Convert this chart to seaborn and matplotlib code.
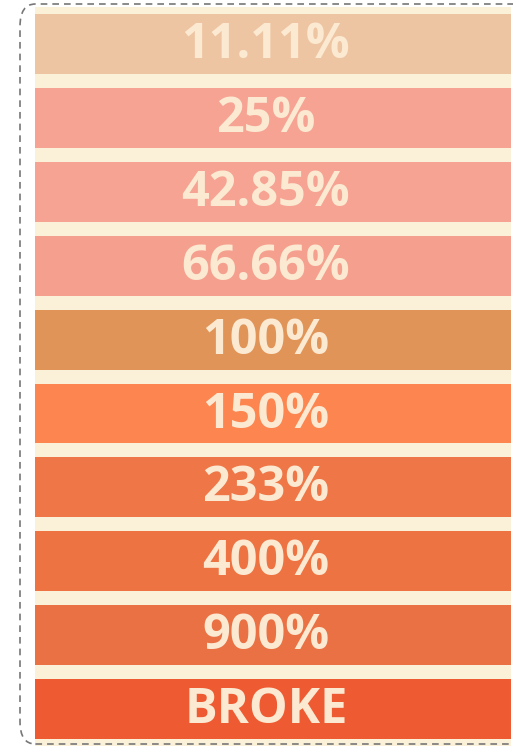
import matplotlib
matplotlib.use("Agg")
import matplotlib.pyplot as plt
from matplotlib.patches import FancyBboxPatch
import seaborn as sns
import pandas as pd

# Data
losses = ["10%", "20%", "30%", "40%", "50%", "60%", "70%", "80%", "90%", "100%"]
recovery_labels = ["11.11%", "25%", "42.85%", "66.66%", "100%", "150%", "233%", "400%", "900%", "BROKE"]
bar_length = [1, 1, 1, 1, 1, 1, 1, 1, 1, 1]
bar_colors = ["#EEC5A3", "#F6A393", "#F6A393", "#F5A08E", "#E09458",
              "#FD8550", "#EE7647", "#EE7342", "#EA7144", "#EE5A32"]

df = pd.DataFrame({"loss": losses, "label": recovery_labels, "length": bar_length})

sns.set_theme(style="white")
plt.rcParams['font.family'] = ['Open Sans', 'DejaVu Sans']

fig = plt.figure(figsize=(5.13, 7.48), dpi=100)
fig.patch.set_facecolor("white")
ax = fig.add_axes([35 / 513, 0.003, (511 - 35) / 513, 0.987])
ax.set_facecolor("#FBF0D8")

sns.barplot(data=df, x="length", y="loss", hue="loss", palette=bar_colors,
            legend=False, orient="h", width=0.81, ax=ax, saturation=1,
            linewidth=0, edgecolor="none")

ax.set_xlim(0, 1)
for i, lab in enumerate(recovery_labels):
    ax.text(0.485, i + 0.02, lab, ha="center", va="center", fontsize=35,
            fontweight="bold", color="#FCE9D2")

ax.set_xticks([])
ax.set_yticks([])
ax.set_xlabel("")
ax.set_ylabel("")
for s in ax.spines.values():
    s.set_visible(False)

# dashed rounded frame
frame = FancyBboxPatch((20 / 513, 4 / 748), (530 - 20) / 513, (744 - 4) / 748,
                       boxstyle="round,pad=0,rounding_size=0.03",
                       transform=fig.transFigure, fill=False,
                       edgecolor="#777777", linestyle=(0, (4, 3)), linewidth=1.2,
                       zorder=0)
fig.patches.append(frame)

fig.savefig("out.png", dpi=100, facecolor="white")
